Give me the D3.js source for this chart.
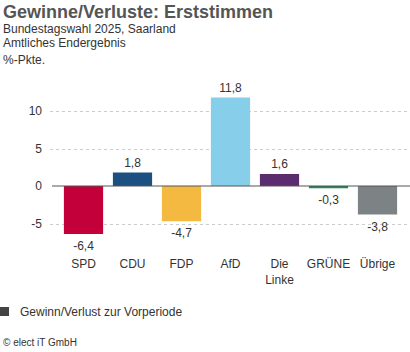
<!DOCTYPE html>
<html><head><meta charset="utf-8">
<script src="https://cdn.jsdelivr.net/npm/d3@7"></script>
<style>body{margin:0;background:#fff}svg{display:block;font-family:"Liberation Sans",Arial,sans-serif}</style>
</head><body><svg id="c" width="410" height="352"></svg>
<script>
const categories = ["SPD","CDU","FDP","AfD","Die Linke","GRÜNE","Übrige"];
const values = [-6.4, 1.8, -4.7, 11.8, 1.6, -0.3, -3.8];
const colors = ["#c4003a","#1b5080","#f4b940","#87ceeb","#5c2d6e","#1a8a5a","#7d8385"];
const yTicks = [-5, 0, 5, 10];
const fmt = v => d3.format(".1f")(v).replace(".", ",").replace("−","-");

const svg = d3.select("#c");
svg.append("text").attr("x",3).attr("y",18).attr("font-size",18).attr("font-weight","bold").attr("fill","#555").text("Gewinne/Verluste: Erststimmen");
svg.append("text").attr("x",3).attr("y",32.5).attr("font-size",12).attr("fill","#333").text("Bundestagswahl 2025, Saarland");
svg.append("text").attr("x",3).attr("y",46.5).attr("font-size",12).attr("fill","#333").text("Amtliches Endergebnis");
svg.append("text").attr("x",3).attr("y",64).attr("font-size",12).attr("fill","#333").text("%-Pkte.");

const x = d3.scaleBand().domain(categories).range([59,402]).paddingInner(0.2).paddingOuter(0.1);
const y = d3.scaleLinear().domain([-5,10]).range([223.5,111]);

const g = svg.append("g");
g.selectAll("line.grid").data(yTicks.filter(t=>t!==0)).enter().append("line")
  .attr("x1",50).attr("x2",408).attr("y1",d=>Math.round(y(d))+0.5).attr("y2",d=>Math.round(y(d))+0.5)
  .attr("stroke","#ccc").attr("stroke-dasharray","3,3");
g.selectAll("text.tick").data(yTicks).enter().append("text")
  .attr("x",42).attr("y",d=>y(d)+4).attr("text-anchor","end").attr("font-size",12).attr("fill","#333")
  .text(d=>d);

g.selectAll("rect").data(values).enter().append("rect")
  .attr("x",(d,i)=>x(categories[i])).attr("width",x.bandwidth())
  .attr("y",d=>y(Math.max(0,d))).attr("height",d=>Math.abs(y(d)-y(0)))
  .attr("fill",(d,i)=>colors[i]);

g.append("line").attr("x1",52).attr("x2",410).attr("y1",y(0)).attr("y2",y(0)).attr("stroke","#555").attr("stroke-width",1);

g.selectAll("text.val").data(values).enter().append("text")
  .attr("x",(d,i)=>x(categories[i])+x.bandwidth()/2)
  .attr("y",d=>d>=0 ? y(d)-6 : y(d)+16)
  .attr("text-anchor","middle").attr("font-size",12).attr("fill","#333").text(d=>fmt(d));

categories.forEach((c,i)=>{
  const t = g.append("text").attr("x",x(c)+x.bandwidth()/2).attr("y",268).attr("text-anchor","middle").attr("font-size",12).attr("fill","#333");
  c.split(" ").forEach((w,j)=>t.append("tspan").attr("x",x(c)+x.bandwidth()/2).attr("dy",j?16:0).text(w));
});

svg.append("rect").attr("x",0).attr("y",307).attr("width",9).attr("height",9).attr("fill","#444");
svg.append("text").attr("x",20).attr("y",316).attr("font-size",12).attr("fill","#333").text("Gewinn/Verlust zur Vorperiode");
svg.append("text").attr("x",3).attr("y",346).attr("font-size",10).attr("fill","#333").text("© elect iT GmbH");
</script></body></html>
